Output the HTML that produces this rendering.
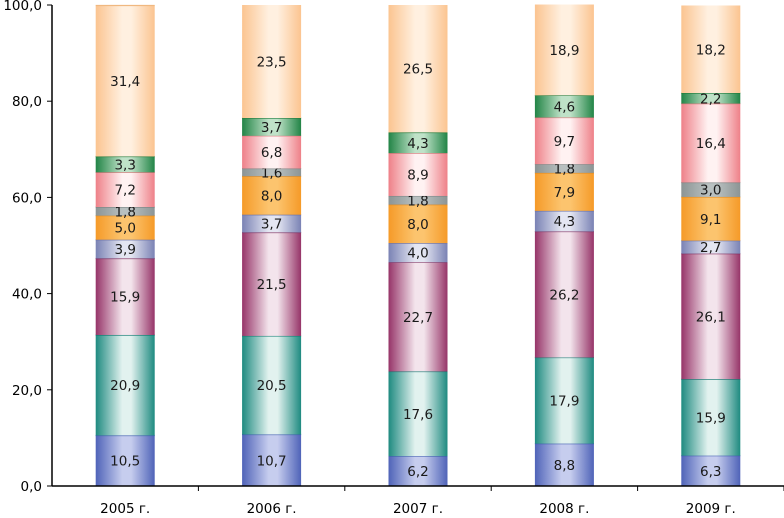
<!DOCTYPE html>
<html><head><meta charset="utf-8"><style>
html,body{margin:0;padding:0;background:#fff;}
svg{display:block;font-family:"DejaVu Sans","Liberation Sans",sans-serif;}
</style></head><body>
<svg id="chart" width="784" height="518" viewBox="0 0 784 518" xmlns="http://www.w3.org/2000/svg">
<defs id="defs"></defs>
<g id="bars"></g>
<g id="axes"></g>
</svg>
<script>
const categories = ["2005 г.","2006 г.","2007 г.","2008 г.","2009 г."];
const s1 = [10.5,10.7,6.2,8.8,6.3];
const s2 = [20.9,20.5,17.6,17.9,15.9];
const s3 = [15.9,21.5,22.7,26.2,26.1];
const s4 = [3.9,3.7,4.0,4.3,2.7];
const s5 = [5.0,8.0,8.0,7.9,9.1];
const s6 = [1.8,1.6,1.8,1.8,3.0];
const s7 = [7.2,6.8,8.9,9.7,16.4];
const s8 = [3.3,3.7,4.3,4.6,2.2];
const s9 = [31.4,23.5,26.5,18.9,18.2];
const yTicks = [0,20,40,60,80,100];
const yTickLabels = ["0,0","20,0","40,0","60,0","80,0","100,0"];

const series=[s1,s2,s3,s4,s5,s6,s7,s8,s9];
const names=["blue","teal","purple","lavender","orange","gray","pink","green","peach"];
const edge=["#4f63b8","#1e8a80","#963468","#7a82b4","#f59a28","#8c9494","#ee8088","#228446","#fbc490"];
const mid =["#c6cdee","#e2f2ef","#f3e4ec","#e4e6f2","#fcc46e","#b8c0c0","#fff2f2","#bfe2c8","#fff0e0"];
const line=["#3e58b0","#107a70","#7e2858","#6a72a8","#e08a20","#7a8282","#e07078","#187838","#f0b880"];
const NS="http://www.w3.org/2000/svg";
const svg=document.getElementById('chart');
const defs=document.getElementById('defs');
const gB=document.getElementById('bars'), gA=document.getElementById('axes');
const X0=52,X1=784,Y0=486,Y100=5;
const y=v=>Y0-(v/100)*(Y0-Y100);
const band=(X1-X0)/categories.length;
const xc=i=>X0+band*(i+0.5);
const BW=59;
function mk(t,a,p){const e=document.createElementNS(NS,t);for(const k in a)e.setAttribute(k,a[k]);(p||svg).appendChild(e);return e;}
names.forEach((n,k)=>{
  const g=mk('linearGradient',{id:'g'+k,x1:'0',x2:'1',y1:'0',y2:'0'},defs);
  mk('stop',{offset:'0','stop-color':edge[k]},g);
  mk('stop',{offset:'0.45','stop-color':mid[k]},g);
  mk('stop',{offset:'0.6','stop-color':mid[k]},g);
  mk('stop',{offset:'1','stop-color':edge[k]},g);
});
categories.forEach((c,i)=>{
  let acc=0;
  series.forEach((s,k)=>{
    const v=s[i];
    const top=y(acc+v), bot=y(acc);
    const r=mk('rect',{x:xc(i)-BW/2,y:top,width:BW,height:bot-top,fill:'url(#g'+k+')'},gB);
    
    
    if(acc+v<99.9){const l=mk('line',{x1:xc(i)-BW/2,x2:xc(i)+BW/2,y1:top,y2:top,stroke:line[k],'stroke-width':1.2},gB);
      
      }
    const t=mk('text',{x:xc(i),y:(top+bot)/2+5,'text-anchor':'middle','font-size':13.5,fill:'#1a1a1a'},gB);
    t.textContent=v.toFixed(1).replace('.',',');
    
    
    acc+=v;
  });
  const tk=mk('line',{x1:X0+band*(i+1),x2:X0+band*(i+1),y1:Y0,y2:Y0+5,stroke:'#000'},gA);
  
  
  const lt=mk('text',{x:xc(i),y:513,'text-anchor':'middle','font-size':13.5,fill:'#000'},gA);
  lt.textContent=c;
  
  
});
const ya=mk('line',{x1:X0,x2:X0,y1:Y100,y2:Y0,stroke:'#000','stroke-width':1.5},gA);


const xa=mk('line',{x1:X0,x2:X1,y1:Y0,y2:Y0,stroke:'#000','stroke-width':1.5},gA);


yTicks.forEach((v,j)=>{
  const tk=mk('line',{x1:X0-5,x2:X0,y1:y(v),y2:y(v),stroke:'#000'},gA);
  
  
  const t=mk('text',{x:42,y:y(v)+5,'text-anchor':'end','font-size':13.5,fill:'#000'},gA);
  t.textContent=yTickLabels[j];
  
  
});
</script>
</body></html>
